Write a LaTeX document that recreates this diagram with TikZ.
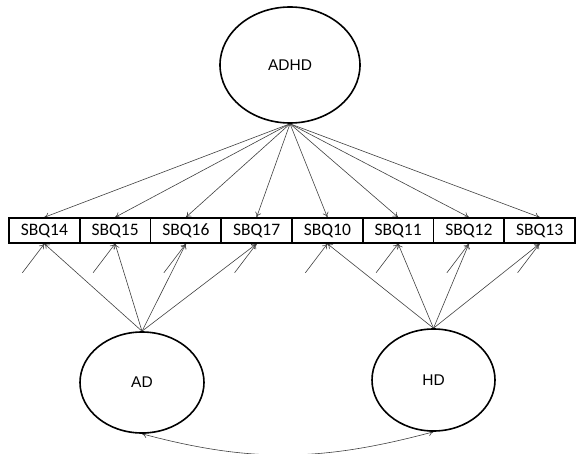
\documentclass[tikz,border=0pt]{standalone}
\usepackage{fontspec}
\setmainfont{Carlito}
\newfontfamily\arialfont{Liberation Sans}
\usepackage{tikz}
\usetikzlibrary{arrows.meta,shapes.geometric}
\pgfdeclarelayer{bg}
\pgfsetlayers{bg,main}

\tikzset{
  latent/.style={draw, ellipse, line width=1.6pt, inner sep=0pt, font=\arialfont\fontsize{15.5}{18}\selectfont},
  item/.style={draw, rectangle, line width=1.5pt, minimum width=70.75pt, minimum height=25pt, inner sep=0pt, font=\fontsize{17.5}{20}\selectfont},
  path/.style={draw=black!75, line width=0.6pt, -{To[length=5pt,width=6pt]}},
}

\begin{document}
\begin{tikzpicture}[x=1pt, y=-1pt]
        \useasboundingbox (0,0) rectangle (577,454);
        \node (adhd) [latent, minimum width=140pt, minimum height=116pt] at (290, 65) {ADHD};
        \node (ad) [latent, minimum width=124pt, minimum height=101pt] at (142, 382.5) {AD};
        \node (hd) [latent, minimum width=123pt, minimum height=102pt] at (433.5, 380) {HD};
        \node (q14) [item] at (44.4, 230.5) {SBQ14};
        \node (q15) [item] at (115.1, 230.5) {SBQ15};
        \node (q16) [item] at (185.9, 230.5) {SBQ16};
        \node (q17) [item] at (256.6, 230.5) {SBQ17};
        \node (q10) [item] at (327.4, 230.5) {SBQ10};
        \node (q11) [item] at (398.1, 230.5) {SBQ11};
        \node (q12) [item] at (468.9, 230.5) {SBQ12};
        \node (q13) [item] at (539.6, 230.5) {SBQ13};
        % residual terms
        \coordinate (e14) at ([shift={(-22,29)}]q14.south);
        \coordinate (e15) at ([shift={(-22,29)}]q15.south);
        \coordinate (e16) at ([shift={(-22,29)}]q16.south);
        \coordinate (e17) at ([shift={(-22,29)}]q17.south);
        \coordinate (e10) at ([shift={(-22,29)}]q10.south);
        \coordinate (e11) at ([shift={(-22,29)}]q11.south);
        \coordinate (e12) at ([shift={(-22,29)}]q12.south);
        \coordinate (e13) at ([shift={(-22,29)}]q13.south);
        \begin{pgfonlayer}{bg}
                \draw (adhd.south) edge [path] (q14.north);
                \draw (adhd.south) edge [path] (q15.north);
                \draw (adhd.south) edge [path] (q16.north);
                \draw (adhd.south) edge [path] (q17.north);
                \draw (adhd.south) edge [path] (q10.north);
                \draw (adhd.south) edge [path] (q11.north);
                \draw (adhd.south) edge [path] (q12.north);
                \draw (adhd.south) edge [path] (q13.north);
                \draw (ad.north) edge [path] (q14.south);
                \draw (ad.north) edge [path] (q15.south);
                \draw (ad.north) edge [path] (q16.south);
                \draw (ad.north) edge [path] (q17.south);
                \draw (hd.north) edge [path] (q10.south);
                \draw (hd.north) edge [path] (q11.south);
                \draw (hd.north) edge [path] (q12.south);
                \draw (hd.north) edge [path] (q13.south);
                \draw (e14) edge [path] (q14.south);
                \draw (e15) edge [path] (q15.south);
                \draw (e16) edge [path] (q16.south);
                \draw (e17) edge [path] (q17.south);
                \draw (e10) edge [path] (q10.south);
                \draw (e11) edge [path] (q11.south);
                \draw (e12) edge [path] (q12.south);
                \draw (e13) edge [path] (q13.south);
                \draw (ad.south) edge [path, {To[length=5pt,width=6pt]}-{To[length=5pt,width=6pt]}, out=-15, in=-165] (hd.south);
        \end{pgfonlayer}
\end{tikzpicture}
\end{document}
